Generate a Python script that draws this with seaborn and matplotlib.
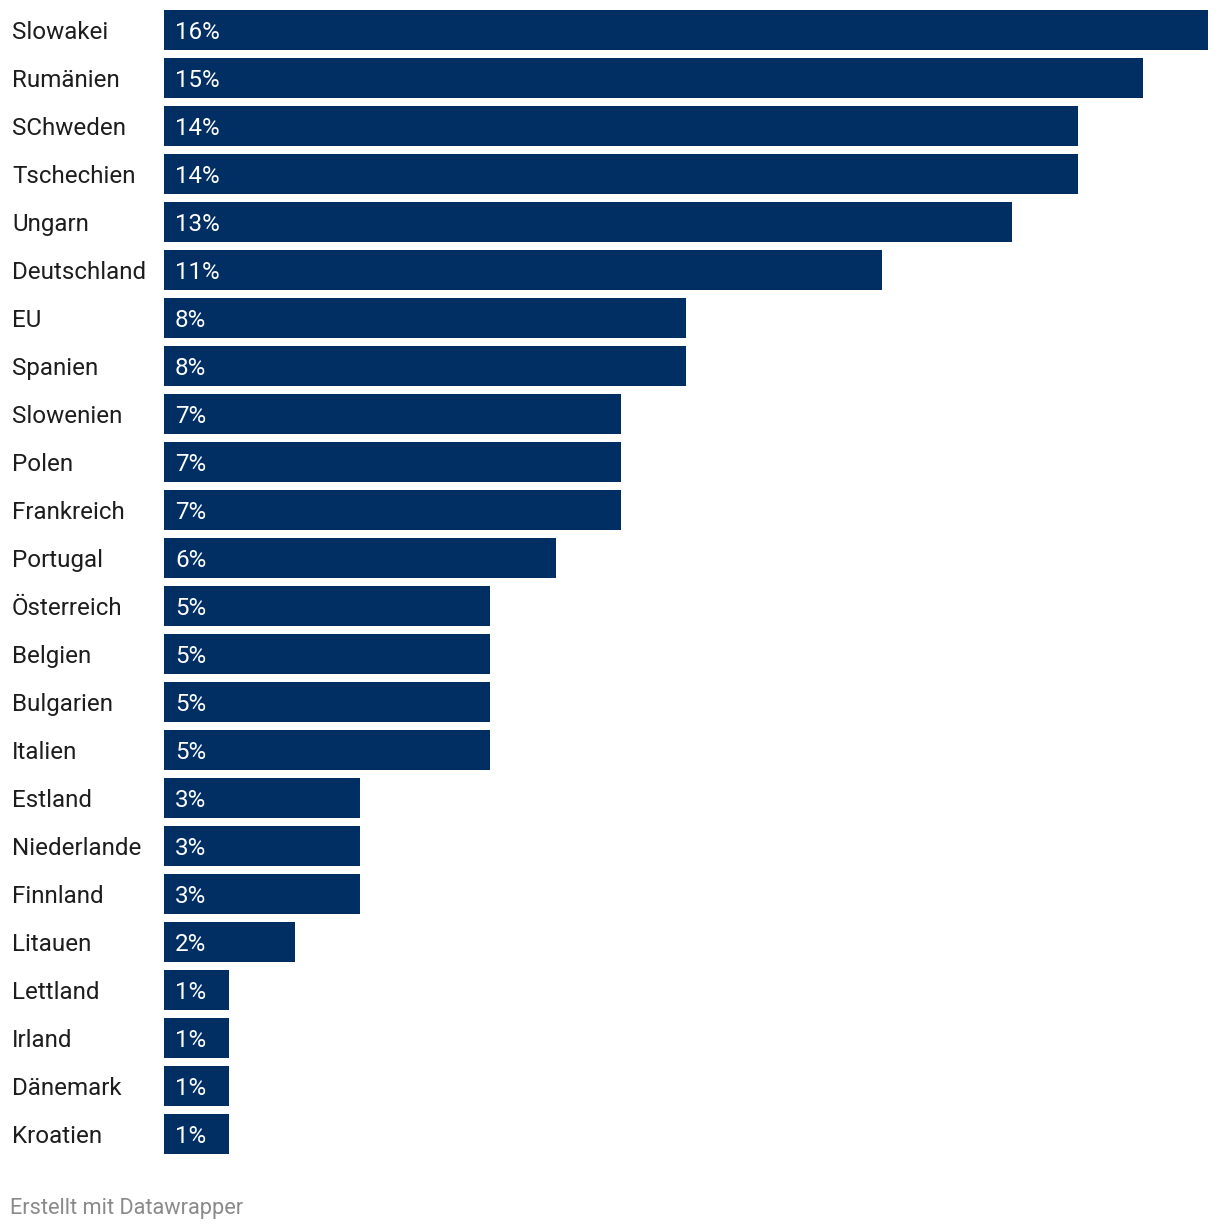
import pandas as pd
import matplotlib.pyplot as plt
import matplotlib.transforms as mtransforms
import seaborn as sns

# ===============================
# DATOS
# ===============================

countries = [
    "Slowakei", "Rumänien", "SChweden", "Tschechien", "Ungarn", "Deutschland",
    "EU", "Spanien", "Slowenien", "Polen", "Frankreich", "Portugal",
    "Österreich", "Belgien", "Bulgarien", "Italien", "Estland", "Niederlande",
    "Finnland", "Litauen", "Lettland", "Irland", "Dänemark", "Kroatien",
]
values = [16, 15, 14, 14, 13, 11, 8, 8, 7, 7, 7, 6, 5, 5, 5, 5, 3, 3, 3, 2, 1, 1, 1, 1]
value_labels = [f"{v}%" for v in values]

df = pd.DataFrame({"country": countries, "value": values})

# ===============================
# GRAFICO
# ===============================

sns.set_style("white")
plt.rcParams["font.family"] = ["Roboto", "DejaVu Sans"]

W, H = 1220, 1230
fig = plt.figure(figsize=(W / 100, H / 100), dpi=100)
ax = fig.add_axes([164 / W, 1 - 1154 / H, (1208 - 164) / W, (1154 - 10) / H])

bar_h = 40 / 48
sns.barplot(
    data=df,
    x="value",
    y="country",
    color="#012f63",
    saturation=1,
    width=bar_h,
    linewidth=0,
    ax=ax,
)

ax.set_xlim(0, 16)
ax.set_ylim(len(countries) - 1 + bar_h / 2, -bar_h / 2)
ax.set_xlabel("")
ax.set_ylabel("")
ax.set_xticks([])
ax.set_yticks([])
sns.despine(ax=ax, left=True, bottom=True)

# etiquetas de pais a la izquierda (coordenadas de figura en x, datos en y)
label_tr = mtransforms.blended_transform_factory(fig.transFigure, ax.transData)

for i, (c, lab) in enumerate(zip(countries, value_labels)):
    ax.text(11 / 65.25, i - 0.01, lab, color="white", fontsize=17.4,
            va="center_baseline", ha="left")
    ax.text(12 / W, i - 0.01, c, fontsize=17.4, color="#1d1d1d",
            va="center_baseline", ha="left", transform=label_tr, clip_on=False)

fig.text(10 / W, 1 - 1206 / H, "Erstellt mit Datawrapper", fontsize=15.7,
         color="#8a8a8a", va="center_baseline", ha="left")

fig.savefig("out.png", dpi=100, facecolor="white")
